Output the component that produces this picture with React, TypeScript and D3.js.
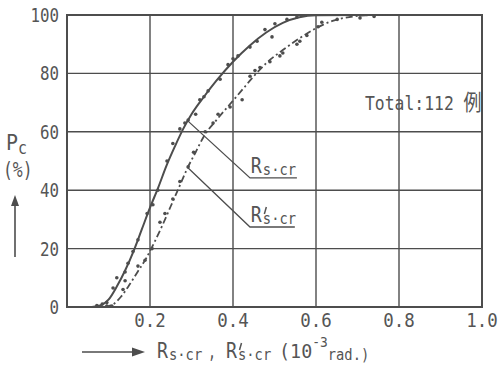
import React from 'react';
import * as d3 from 'd3';

// x ticks (10^-3 rad) and y ticks (%)
const xTicks = [0.2, 0.4, 0.6, 0.8, 1.0];
const yTicks = [0, 20, 40, 60, 80, 100];

// fitted curve for Rs.cr (solid)
const solidCurve: [number, number][] = [
  [0.06, 0], [0.08, 0.5], [0.1, 2.5], [0.12, 7], [0.14, 12.5], [0.16, 19], [0.18, 26.5],
  [0.2, 34], [0.22, 41], [0.24, 48.5], [0.26, 55], [0.28, 61], [0.3, 66], [0.33, 72],
  [0.36, 77.5], [0.4, 84], [0.44, 89.5], [0.48, 94], [0.52, 97.3], [0.56, 99.2],
  [0.6, 99.9], [0.7, 100], [0.8, 100],
];

// fitted curve for R's.cr (dash-dot)
const dashCurve: [number, number][] = [
  [0.09, 0], [0.11, 0.8], [0.13, 3.5], [0.15, 7.5], [0.17, 12], [0.19, 16.5], [0.21, 22],
  [0.23, 28], [0.25, 34.5], [0.27, 41], [0.29, 47.5], [0.31, 53], [0.33, 58.5], [0.36, 64],
  [0.39, 69], [0.42, 74], [0.45, 79], [0.48, 83.5], [0.52, 88], [0.56, 92], [0.6, 95.5],
  [0.64, 98], [0.68, 99.3], [0.72, 99.9], [0.8, 100],
];

// measured points
const solidDots: [number, number][] = [
  [0.072, 0.5], [0.085, 1], [0.096, 1.5], [0.111, 6.5], [0.12, 10], [0.14, 12], [0.147, 15],
  [0.159, 19], [0.171, 23], [0.193, 32], [0.207, 35], [0.219, 40], [0.241, 50], [0.255, 56],
  [0.272, 61], [0.284, 63], [0.292, 64], [0.31, 66], [0.32, 71], [0.33, 72], [0.34, 74],
  [0.369, 78], [0.388, 83], [0.4, 85], [0.412, 86], [0.441, 89], [0.458, 91], [0.477, 95],
  [0.494, 92.5], [0.501, 97], [0.53, 98.5], [0.554, 99.3],
];

const dashDots: [number, number][] = [
  [0.096, 0.3], [0.108, 0.3], [0.135, 6], [0.14, 9], [0.171, 14], [0.188, 16], [0.205, 20],
  [0.224, 29], [0.236, 32], [0.255, 37], [0.272, 43], [0.292, 48], [0.305, 53], [0.333, 60],
  [0.352, 63], [0.364, 66], [0.393, 68.5], [0.422, 71], [0.441, 79], [0.453, 81], [0.465, 82],
  [0.489, 84], [0.513, 86], [0.52, 87], [0.554, 90], [0.561, 91], [0.578, 93], [0.605, 96],
  [0.614, 97.5], [0.651, 98.5], [0.706, 99], [0.74, 99.5],
];

// leader lines: [start on curve, elbow, end of underline]
const solidLeader: [number, number][] = [[0.289, 64], [0.441, 44.2], [0.554, 44.2]];
const dashLeader: [number, number][] = [[0.292, 47.6], [0.441, 27.4], [0.549, 27.4]];

const W = 502;
const H = 366;
const ink = '#4d4d4d';
const txt = '#555';
const font = '"DejaVu Sans Mono", monospace';
const cjk = '"Noto Sans CJK JP", sans-serif';

// narrow typewriter-ish text: squeeze to ~10px per glyph
const Txt = (p: { x: number; y: number; s: string; size?: number; w?: number; anchor?: string }) => (
  <text
    x={p.x}
    y={p.y}
    fontFamily={font}
    fontSize={p.size || 20}
    fill={txt}
    textAnchor={p.anchor || 'start'}
    textLength={(p.w || 10) * p.s.length}
    lengthAdjust="spacingAndGlyphs"
  >
    {p.s}
  </text>
);

// R with subscript s·cr (optionally primed), left at x, baseline at y
const RSym = (x: number, y: number, primed: boolean) => (
  <g>
    <Txt x={x} y={y} s="R" size={21} w={11} />
    <Txt x={x + 12} y={y + 2} s="s·cr" size={16} w={8.3} />
    {primed && <line x1={x + 15.5} y1={y - 15} x2={x + 13.5} y2={y - 8} stroke={txt} strokeWidth={1.5} />}
  </g>
);

export default function App() {
  const x = d3.scaleLinear().domain([0, 1]).range([67, 482]);
  const y = d3.scaleLinear().domain([0, 100]).range([307, 15]);

  const line = d3.line<[number, number]>()
    .x(d => x(d[0]))
    .y(d => y(d[1]))
    .curve(d3.curveMonotoneX);
  const poly = d3.line<[number, number]>().x(d => x(d[0])).y(d => y(d[1]));

  return (
    <svg width={W} height={H} style={{ position: 'absolute', left: 0, top: 0, background: '#fff' }}>
      {/* grid */}
      {xTicks.map(t => (
        <line key={'gx' + t} x1={x(t)} x2={x(t)} y1={y(0)} y2={y(100)} stroke={ink} strokeWidth={1.4} />
      ))}
      {yTicks.map(t => (
        <line key={'gy' + t} x1={x(0)} x2={x(1)} y1={y(t)} y2={y(t)} stroke={ink} strokeWidth={1.4} />
      ))}
      <rect x={x(0)} y={y(100)} width={x(1) - x(0)} height={y(0) - y(100)} fill="none" stroke={ink} strokeWidth={2} />

      {/* tick labels */}
      {yTicks.map(t => (
        <Txt key={'ty' + t} x={59} y={y(t) + 7} s={String(t)} w={9.5} anchor="end" />
      ))}
      {xTicks.map(t => (
        <Txt key={'tx' + t} x={x(t)} y={y(0) + 20} s={t.toFixed(1)} w={10.5} anchor="middle" />
      ))}

      {/* curves */}
      <path d={line(solidCurve) || ''} fill="none" stroke={ink} strokeWidth={2} />
      <path d={line(dashCurve) || ''} fill="none" stroke={ink} strokeWidth={1.8} strokeDasharray="7 3 2 3" />
      {solidDots.map((d, i) => (
        <circle key={'sd' + i} cx={x(d[0])} cy={y(d[1])} r={1.8} fill={ink} />
      ))}
      {dashDots.map((d, i) => (
        <circle key={'dd' + i} cx={x(d[0])} cy={y(d[1])} r={1.8} fill={ink} />
      ))}

      {/* leaders and labels */}
      <path d={poly(solidLeader) || ''} fill="none" stroke={ink} strokeWidth={1.3} />
      <path d={poly(dashLeader) || ''} fill="none" stroke={ink} strokeWidth={1.3} />
      {RSym(x(0.443), y(44.2) - 5, false)}
      {RSym(x(0.443), y(27.4) - 5, true)}

      <text transform="translate(365,110) scale(0.82,1)" fontFamily={font} fontSize={20} fill={txt}>
        Total:112
        <tspan fontFamily={cjk} fontSize={22} dx={12}>例</tspan>
      </text>

      {/* y axis title */}
      <Txt x={6} y={150} s="P" size={21} w={12} />
      <Txt x={18} y={154} s="c" size={17} w={9} />
      <text transform="translate(3,177) scale(0.78,1)" fontFamily={font} fontSize={21} fill={txt}>(%)</text>
      <line x1={15} x2={15} y1={257} y2={202} stroke={ink} strokeWidth={1.6} />
      <path d="M15,195 L11,206 L19,206 Z" fill={ink} />

      {/* x axis title */}
      <line x1={82} x2={134} y1={352} y2={352} stroke={ink} strokeWidth={1.6} />
      <path d="M145,352 L132,347.5 L132,356.5 Z" fill={ink} />
      {RSym(157, 358, false)}
      <Txt x={208} y={358} s="," w={8} />
      {RSym(226, 358, true)}
      <text transform="translate(279,358) scale(0.92,1)" fontFamily={font} fontSize={20} fill={txt}>
        (10
        <tspan fontSize={14} dy={-11}>-3</tspan>
        <tspan fontSize={15} dy={13}>rad.)</tspan>
      </text>
    </svg>
  );
}
